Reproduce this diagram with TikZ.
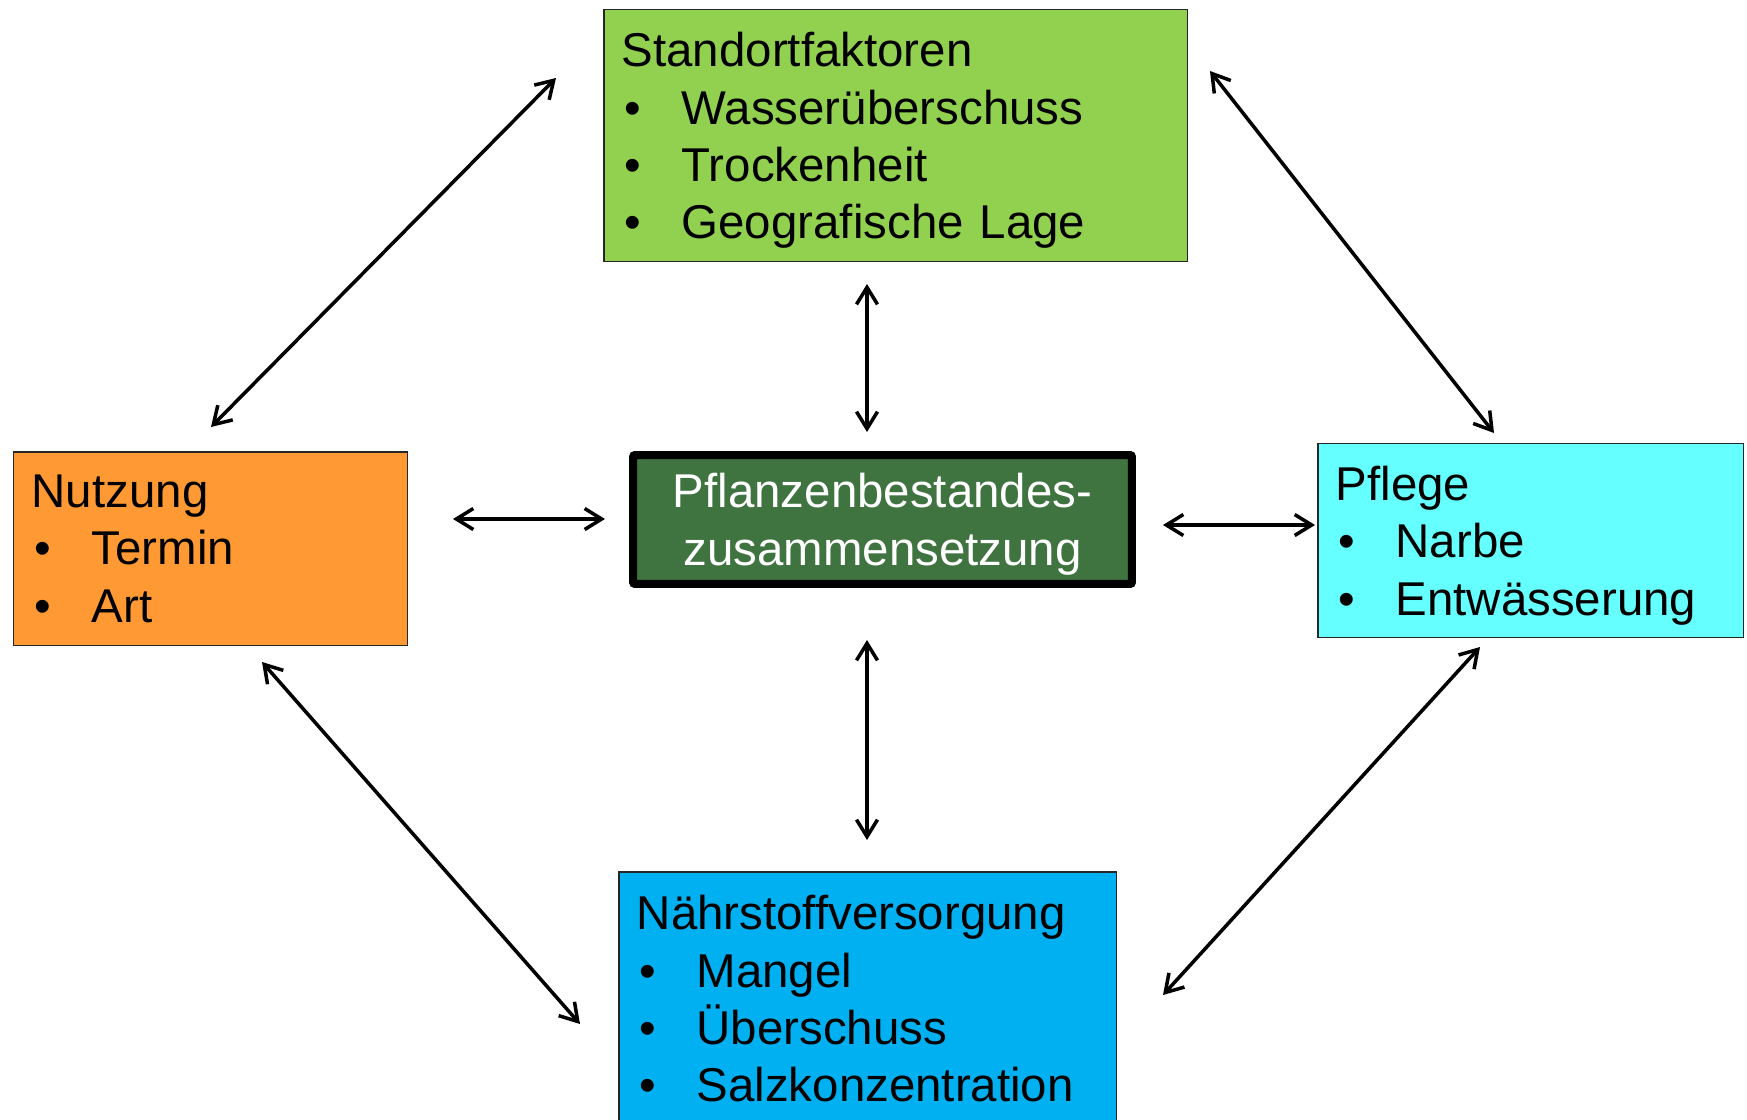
\documentclass[tikz,border=0pt]{standalone}
\usepackage{fontspec}
\setmainfont{Liberation Sans}
\usetikzlibrary{arrows.meta}
\definecolor{stdgreen}{HTML}{92D050}
\definecolor{nutorange}{HTML}{FF9933}
\definecolor{pflcyan}{HTML}{66FFFF}
\definecolor{naeblue}{HTML}{00B0F0}
\definecolor{ctrgreen}{HTML}{3F7440}
\newcommand{\bitem}[1]{\hspace*{0.05cm}\makebox[1.15cm][l]{•}#1}
\newcommand{\topstrut}{\rule{0pt}{25pt}}
\tikzset{
  infobox/.style={draw=black!85, line width=0.85pt, anchor=north west, align=left,
    inner xsep=0.36cm, inner ysep=0.1cm,
    font=\fontsize{27pt}{32.7pt}\selectfont},
  centerbox/.style={draw=black, line width=0.16cm, rounded corners=0.04cm, fill=ctrgreen,
    text=white, align=center, minimum width=9.98cm, minimum height=2.58cm,
    font=\fontsize{27pt}{32.7pt}\selectfont},
  link/.style={line width=2pt, line cap=round,
    {Straight Barb[length=0.34cm,width=0.42cm]}-{Straight Barb[length=0.34cm,width=0.42cm]}}
}
\begin{document}
\begin{tikzpicture}[x=0.02cm,y=-0.02cm]
\useasboundingbox (0,0) rectangle (1747,1119);
\begin{scope}
\clip (0,0) rectangle (1747,1119);
\node[infobox, fill=stdgreen, text width=10.96cm, minimum height=5.04cm] (std) at (603,9)
  {\topstrut Standortfaktoren\\ \bitem{Wasserüberschuss}\\ \bitem{Trockenheit}\\ \bitem{Geografische Lage}};
\node[infobox, fill=nutorange, text width=7.16cm, minimum height=3.88cm] (nut) at (13,451)
  {Nutzung\\ \bitem{Termin}\\ \bitem{Art}};
\node[infobox, fill=pflcyan, text width=7.80cm, minimum height=3.88cm] (pfl) at (1317,443)
  {\topstrut Pflege\\ \bitem{Narbe}\\ \bitem{Entwässerung}};
\node[infobox, fill=naeblue, text width=9.24cm, inner ysep=0.47cm] (nae) at (618,871)
  {Nährstoffversorgung\\ \bitem{Mangel}\\ \bitem{Überschuss}\\ \bitem{Salzkonzentration}\rule[-3cm]{0pt}{0pt}};
\node[centerbox] (ctr) at (882.5,519.5) {\topstrut Pflanzenbestandes-\\zusammensetzung};
\end{scope}
% connector end points
\coordinate (nutA) at (211,427);  \coordinate (stdA) at (556,78);
\coordinate (stdB) at (1210,71);  \coordinate (pflA) at (1494,433);
\coordinate (stdC) at (867,284);  \coordinate (ctrA) at (867,432);
\coordinate (nutB) at (453,519);  \coordinate (ctrB) at (605,519);
\coordinate (ctrC) at (1163,525); \coordinate (pflB) at (1315,525);
\coordinate (ctrD) at (867,640);  \coordinate (naeA) at (867,840);
\coordinate (nutC) at (262,662);  \coordinate (naeB) at (580,1024);
\coordinate (pflC) at (1480,647); \coordinate (naeC) at (1163,995);
\draw[link] (nutA) -- (stdA);
\draw[link] (stdB) -- (pflA);
\draw[link] (stdC) -- (ctrA);
\draw[link] (nutB) -- (ctrB);
\draw[link] (ctrC) -- (pflB);
\draw[link] (ctrD) -- (naeA);
\draw[link] (nutC) -- (naeB);
\draw[link] (pflC) -- (naeC);
\end{tikzpicture}
\end{document}
